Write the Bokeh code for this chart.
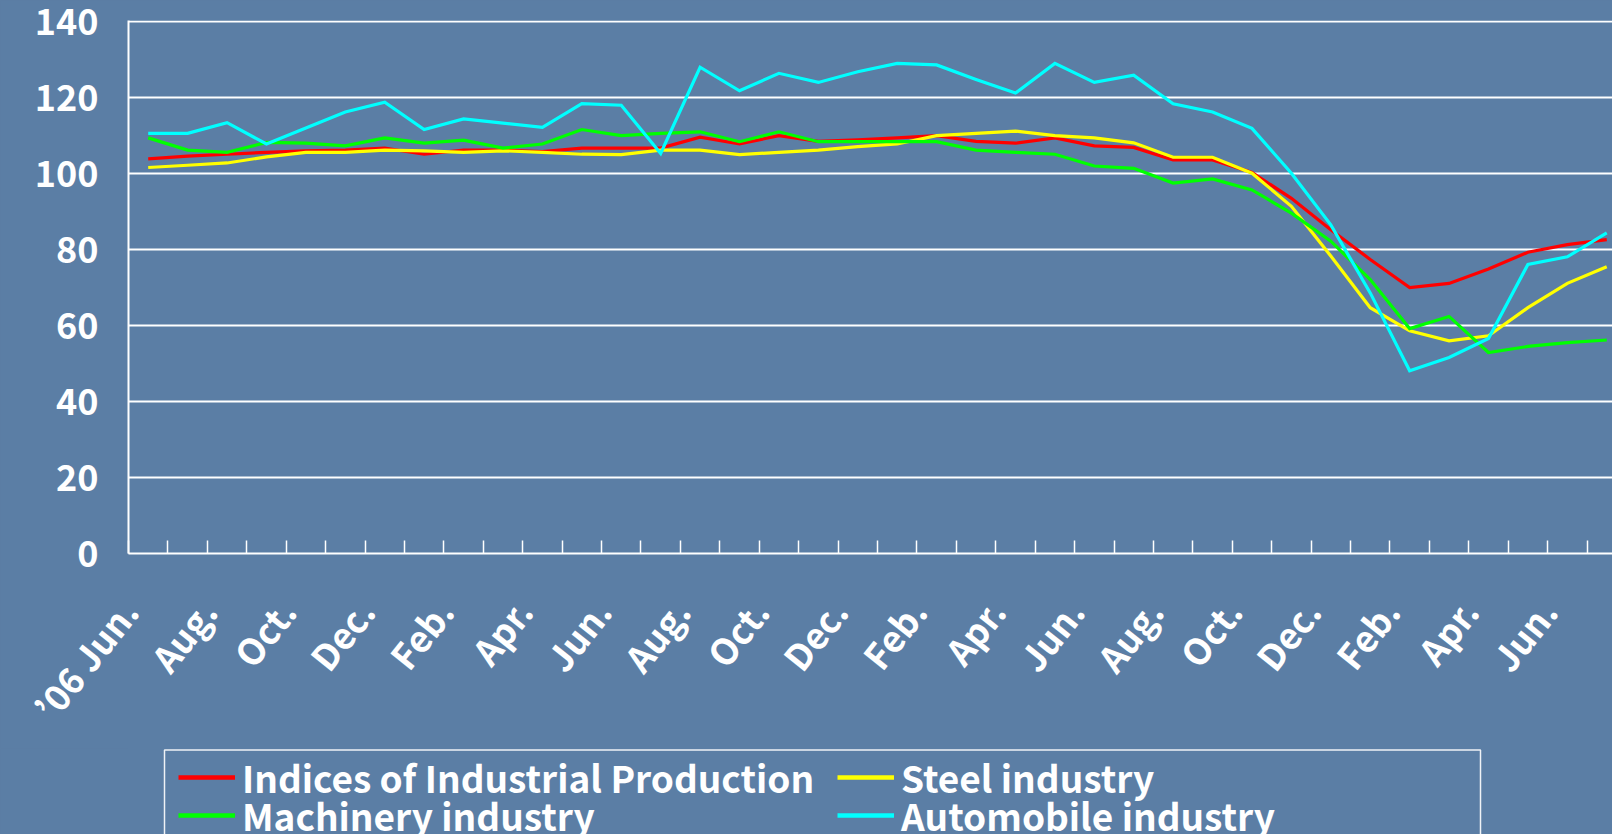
import math
from bokeh.plotting import figure
from bokeh.layouts import column
from bokeh.models import Range1d, FixedTicker, Legend, LegendItem, BoxAnnotation
from bokeh.embed import file_html
from bokeh.resources import INLINE

# ---------------- data ----------------
month_names = ["Jan.", "Feb.", "Mar.", "Apr.", "May", "Jun.",
               "Jul.", "Aug.", "Sep.", "Oct.", "Nov.", "Dec."]
start_year = 2006
start_month = 5          # June (0-based)
n_months = 38            # Jun 2006 .. Jul 2009

industrial = [103.9, 104.6, 105.1, 105.6, 106.0, 106.2, 106.7, 105.1, 106.2, 106.2,
              105.8, 106.7, 106.7, 106.7, 109.6, 107.8, 110.0, 108.5, 108.9, 109.4,
              110.0, 108.5, 108.0, 109.4, 107.3, 106.9, 103.6, 103.6, 100.3, 93.5,
              85.2, 77.4, 70.0, 71.1, 74.9, 79.3, 81.3, 82.6]
steel = [101.6, 102.2, 102.8, 104.4, 105.6, 105.6, 106.2, 106.0, 105.6, 106.0,
         105.6, 105.1, 105.0, 106.2, 106.2, 105.0, 105.6, 106.2, 107.1, 107.8,
         110.0, 110.6, 111.2, 110.0, 109.4, 108.1, 104.3, 104.3, 100.1, 91.4,
         78.3, 64.7, 58.6, 56.0, 57.3, 64.7, 71.1, 75.5]
machinery = [109.4, 106.2, 105.6, 108.2, 108.0, 107.3, 109.4, 108.0, 108.8, 106.7,
             107.8, 111.6, 110.0, 110.6, 111.0, 108.4, 111.0, 108.4, 108.4, 108.4,
             108.4, 106.2, 105.6, 105.1, 102.0, 101.4, 97.5, 98.6, 95.7, 89.6,
             82.2, 72.1, 59.2, 62.4, 52.9, 54.5, 55.5, 56.2]
automobile = [110.6, 110.6, 113.4, 107.8, 112.0, 116.2, 118.8, 111.6, 114.4, 113.3,
              112.2, 118.4, 118.0, 105.3, 128.0, 121.8, 126.4, 124.0, 126.8, 129.0,
              128.6, 124.8, 121.2, 129.0, 124.0, 125.9, 118.4, 116.2, 111.9, 100.1,
              86.5, 68.6, 48.1, 51.6, 56.6, 76.1, 78.1, 84.4]

series_names = ["Indices of Industrial Production", "Steel industry",
                "Machinery industry", "Automobile industry"]
series_values = [industrial, steel, machinery, automobile]
series_colors = ["#ff0000", "#ffff00", "#00ff00", "#00ffff"]

y_ticks = [0, 20, 40, 60, 80, 100, 120, 140]

# month labels (every second month is shown)
month_labels = []
for k in range(n_months):
    m = (start_month + k) % 12
    y = start_year + (start_month + k) // 12
    name = month_names[m]
    if k == 0:
        name = "\u2019%02d %s" % (y % 100, name)
    month_labels.append(name)

# ---------------- main figure ----------------
FONT = "Noto Sans CJK JP"
BG = "#5b7ea5"

x = list(range(n_months))

p = figure(width=1612, height=748, output_backend="svg", toolbar_location=None,
           x_range=Range1d(-0.5, -0.5 + 1484 / 39.42),
           y_range=Range1d(0, 140.3),
           min_border_left=128, min_border_right=0, min_border_top=20,
           min_border_bottom=195)
p.background_fill_color = BG
p.border_fill_color = BG
p.outline_line_color = None

for name, vals, col in zip(series_names, series_values, series_colors):
    p.line(x, vals, line_color=col, line_width=3.2, line_join="miter")

p.xgrid.visible = False
p.ygrid.ticker = FixedTicker(ticks=y_ticks)
p.ygrid.grid_line_color = "white"
p.ygrid.grid_line_width = 2

ya = p.yaxis[0]
ya.ticker = FixedTicker(ticks=y_ticks)
ya.axis_line_color = "white"
ya.axis_line_width = 2
ya.major_tick_line_color = None
ya.minor_tick_line_color = None
ya.major_tick_in = 0
ya.major_tick_out = 0
ya.major_label_standoff = 30
ya.major_label_text_color = "white"
ya.major_label_text_font = FONT
ya.major_label_text_font_style = "bold"
ya.major_label_text_font_size = "36px"

boundaries = [k - 0.5 for k in range(n_months)]
xa = p.xaxis[0]
xa.ticker = FixedTicker(ticks=boundaries, minor_ticks=[])
xa.major_label_overrides = {b: (month_labels[k] if k % 2 == 0 else "")
                            for k, b in enumerate(boundaries)}
xa.axis_line_color = "white"
xa.axis_line_width = 2
xa.major_tick_line_color = "white"
xa.major_tick_line_width = 1.5
xa.major_tick_in = 13
xa.major_tick_out = 0
xa.minor_tick_line_color = None
xa.major_label_orientation = 0.9
xa.major_label_standoff = 50
xa.major_label_text_color = "white"
xa.major_label_text_font = FONT
xa.major_label_text_font_style = "bold"
xa.major_label_text_font_size = "36px"

# ---------------- legend strip ----------------
p2 = figure(width=1612, height=86, output_backend="svg", toolbar_location=None,
            x_range=Range1d(-0.5, -0.5 + 1484 / 39.42), y_range=Range1d(1000, 1001),
            x_axis_location=None, y_axis_location=None,
            min_border_left=128, min_border_right=0, min_border_top=0,
            min_border_bottom=0)
p2.background_fill_color = BG
p2.border_fill_color = BG
p2.outline_line_color = BG
p2.outline_line_width = 3
p2.xgrid.visible = False
p2.ygrid.visible = False

# legend keys (same series, not shown in this strip)
keys = {}
for name, vals, col in zip(series_names, series_values, series_colors):
    keys[name] = p2.line(x, vals, line_color=col, line_width=4.5, visible=False)

common = dict(label_text_font=FONT, label_text_font_size="37px",
              label_text_font_style="bold", label_text_color="white",
              glyph_width=57, glyph_height=30, label_height=30, label_standoff=7,
              padding=0, spacing=0, location="top_right",
              border_line_color=None, background_fill_alpha=0)

# (name, margin, label_width) -> two rows x two columns
legend_layout = [(series_names[0], 2, 1368), (series_names[1], 2, 709),
                 (series_names[2], 40, 1330), (series_names[3], 40, 671)]
for name, mg, lw in legend_layout:
    p2.add_layout(Legend(items=[LegendItem(label=name, renderers=[keys[name]])],
                         margin=mg, label_width=lw, **common), "center")

p2.add_layout(BoxAnnotation(left=164, right=1480, top=1.5, bottom=300,
                            left_units="canvas", right_units="canvas",
                            top_units="canvas", bottom_units="canvas",
                            fill_alpha=0, line_color="white", line_width=1.5,
                            line_alpha=0.9))

page = column(p, p2, spacing=0, styles={"background-color": BG})
open("out.html", "w").write(file_html(page, INLINE))
